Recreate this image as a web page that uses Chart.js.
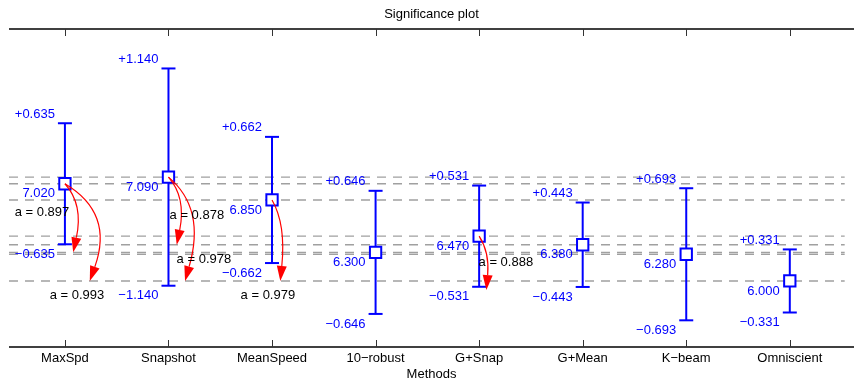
<!DOCTYPE html>
<html>
<head>
<meta charset="utf-8">
<script src="https://cdn.jsdelivr.net/npm/chart.js@4/dist/chart.umd.min.js"></script>
<style>
  html, body { margin:0; padding:0; background:#fff; }
  #wrap { width:854px; height:384px; }
</style>
</head>
<body>
<div id="wrap"><canvas id="c" width="854" height="384"></canvas></div>
<script>
/* =================== Dados =================== */
const methods = ["MaxSpd","Snapshot","MeanSpeed","10\u2212robust","G+Snap","G+Mean","K\u2212beam","Omniscient"];
const means   = [7.020, 7.090, 6.850, 6.300, 6.470, 6.380, 6.280, 6.000];
const errs    = [0.635, 1.140, 0.662, 0.646, 0.531, 0.443, 0.693, 0.331];

// setas de significancia (metodo de origem -> nivel de destino)
const arrowFrom  = [0, 0, 1, 1, 2, 4];
const arrowTipX  = [1.08, 1.24, 2.08, 2.16, 3.08, 5.07];
const arrowTipY  = [6.30, 6.00, 6.38, 6.00, 6.00, 5.905];
const arrowBend  = [0.15, 0.25, 0.14, 0.20, 0.07, 0.06];
const arrowText  = ["a = 0.897","a = 0.993","a = 0.878","a = 0.978","a = 0.979","a = 0.888"];
const arrowTextX = [0.778, 1.116, 2.274, 2.342, 2.960, 5.258];
const arrowTextY = [6.714, 5.853, 6.685, 6.231, 5.846, 6.192];

const X_MIN = 0.46, X_MAX = 8.62, Y_MIN = 5.307, Y_MAX = 8.644;
const FONT = "'Liberation Sans', Arial, Helvetica, sans-serif";
const FS = 13;
const BLUE = "#0000ff";

/* =============== Datasets =================== */
const dashed = means.map(m => ({
  type:"line",
  data:[{x:X_MIN, y:m},{x:8.53, y:m}],
  borderColor:"#a0a0a0", borderWidth:1.4, borderDash:[9,7],
  pointRadius:0, order:4
}));

const bars = means.map((m,i) => ({
  type:"line",
  data:[{x:i+1, y:m-errs[i]},{x:i+1, y:m+errs[i]}],
  borderColor:BLUE, borderWidth:2,
  pointStyle:"line", pointRadius:7, pointBorderWidth:2,
  pointBorderColor:BLUE, order:2
}));

const boxes = {
  type:"scatter",
  data: means.map((m,i)=>({x:i+1, y:m})),
  pointStyle:"rect", pointRadius:8, pointBorderWidth:2,
  pointBorderColor:BLUE, pointBackgroundColor:"#fff",
  showLine:false, order:1
};

/* --------------- Plugin: eixos, rotulos e setas --------------- */
const extras = {
  id:"extras",
  beforeDatasetsDraw(chart){
    const {ctx, chartArea:a, scales:{x}} = chart;
    ctx.save();
    ctx.strokeStyle = "#404040"; ctx.lineWidth = 2;
    ctx.beginPath(); ctx.moveTo(a.left, a.top); ctx.lineTo(854, a.top); ctx.stroke();
    ctx.strokeStyle = "#000"; ctx.lineWidth = 1.5;
    ctx.beginPath(); ctx.moveTo(a.left, a.bottom); ctx.lineTo(854, a.bottom); ctx.stroke();
    ctx.strokeStyle = "#333"; ctx.lineWidth = 1;
    methods.forEach((_,i)=>{
      const px = Math.round(x.getPixelForValue(i+1)) + 0.5;
      ctx.beginPath();
      ctx.moveTo(px, a.top); ctx.lineTo(px, a.top+7);
      ctx.moveTo(px, a.bottom); ctx.lineTo(px, a.bottom-7);
      ctx.stroke();
    });
    ctx.restore();
  },
  afterDatasetsDraw(chart){
    const {ctx, scales:{x, y}} = chart;
    ctx.save();
    ctx.font = FS + "px " + FONT;
    ctx.textBaseline = "middle";

    // rotulos azuis
    ctx.fillStyle = BLUE; ctx.textAlign = "right";
    means.forEach((m,i)=>{
      const px = x.getPixelForValue(i+1) - 10;
      ctx.fillText("+" + errs[i].toFixed(3), px, y.getPixelForValue(m+errs[i]) - 9);
      ctx.fillText(m.toFixed(3), px, y.getPixelForValue(m) + 10);
      ctx.fillText("\u2212" + errs[i].toFixed(3), px, y.getPixelForValue(m-errs[i]) + 10);
    });

    // setas vermelhas
    arrowFrom.forEach((f,k)=>{
      const x0 = x.getPixelForValue(f+1), y0 = y.getPixelForValue(means[f]);
      const x1 = x.getPixelForValue(arrowTipX[k]), y1 = y.getPixelForValue(arrowTipY[k]);
      const dy = y1 - y0;
      const cx = x1 + arrowBend[k]*dy, cy = y1 - 0.7*dy;
      const ang = Math.atan2(y1-cy, x1-cx);
      const L = 15, W = 5;
      const bx = x1 - L*Math.cos(ang), by = y1 - L*Math.sin(ang);
      ctx.strokeStyle = "#ff0000"; ctx.lineWidth = 1.2;
      ctx.beginPath(); ctx.moveTo(x0, y0); ctx.quadraticCurveTo(cx, cy, bx, by); ctx.stroke();
      ctx.fillStyle = "#ff0000";
      ctx.beginPath();
      ctx.moveTo(x1, y1);
      ctx.lineTo(bx + W*Math.sin(ang), by - W*Math.cos(ang));
      ctx.lineTo(bx - W*Math.sin(ang), by + W*Math.cos(ang));
      ctx.closePath(); ctx.fill();
    });

    // rotulos das setas
    ctx.fillStyle = "#000"; ctx.textAlign = "center";
    arrowText.forEach((t,k)=>{
      ctx.fillText(t, x.getPixelForValue(arrowTextX[k]), y.getPixelForValue(arrowTextY[k]));
    });
    ctx.restore();
  }
};

/* =============== Chart =================== */
new Chart(document.getElementById("c"), {
  type:"line",
  data:{ datasets:[...dashed, ...bars, boxes] },
  options:{
    responsive:false,
    animation:false,
    events:[],
    layout:{ autoPadding:false, padding:{ left:9, right:0, top:0, bottom:0 } },
    plugins:{
      legend:{ display:false },
      tooltip:{ enabled:false },
      title:{
        display:true, text:"Significance plot", color:"#000",
        font:{ family:FONT, size:FS, weight:"normal", lineHeight:1.2 },
        padding:{ top:7, bottom:6.4 }
      }
    },
    scales:{
      x:{
        type:"linear", min:X_MIN, max:X_MAX,
        afterBuildTicks:(s)=>{ s.ticks = methods.map((_,i)=>({value:i+1})); },
        afterFit:(s)=>{ s.height = 37; },
        grid:{ display:false, drawTicks:false },
        border:{ display:false },
        ticks:{
          autoSkip:false, maxRotation:0, padding:3.2, color:"#000",
          font:{ family:FONT, size:FS, lineHeight:1.2 },
          callback:(v)=> methods[Math.round(v)-1]
        },
        title:{
          display:true, text:"Methods", color:"#000",
          font:{ family:FONT, size:FS, lineHeight:1.2 },
          padding:{ top:0, bottom:2.2 }
        }
      },
      y:{ type:"linear", min:Y_MIN, max:Y_MAX, display:false }
    }
  },
  plugins:[extras]
});
</script>
</body>
</html>
